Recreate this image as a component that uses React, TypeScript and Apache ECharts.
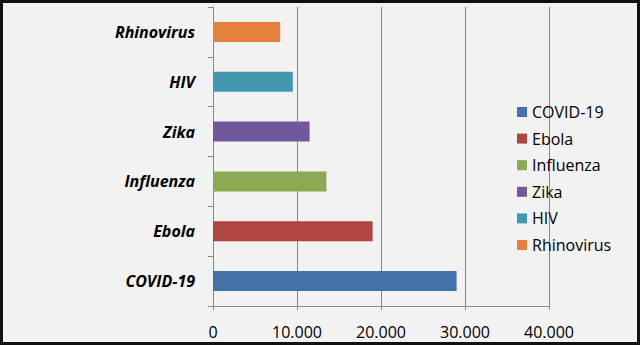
import React, { useEffect, useRef } from "react";
import * as echarts from "echarts";

const categories = ["COVID-19", "Ebola", "Influenza", "Zika", "HIV", "Rhinovirus"];
const values = [29000, 19000, 13500, 11500, 9500, 8000];
const colors = ["#4470A8", "#AE4543", "#8CAA52", "#70589A", "#4398B0", "#E2823C"];
const xTicks = [0, 10000, 20000, 30000, 40000];

function fmt(v: number): string {
  return String(v).replace(/\B(?=(\d{3})+(?!\d))/g, ".");
}

export default function App() {
  const ref = useRef<HTMLDivElement>(null);
  useEffect(() => {
    document.body.style.margin = "0";
    const chart = echarts.init(ref.current!, null, { renderer: "svg" });
    const series = categories.map((name, i) => ({
      name,
      type: "bar",
      stack: "total",
      barWidth: 20,
      itemStyle: { color: colors[i] },
      data: categories.map((_, j) => (j === i ? values[i] : "-")),
    }));
    chart.setOption({
      animation: false,
      backgroundColor: "transparent",
      grid: { left: 213, right: 91, top: 7, bottom: 39, containLabel: false },
      legend: {
        orient: "vertical",
        left: 512,
        top: 99,
        icon: "rect",
        itemWidth: 10,
        itemHeight: 10,
        itemGap: 10.6,
        textStyle: { fontFamily: "Open Sans", fontSize: 16, lineHeight: 16, color: "#000" },
        data: categories,
      },
      xAxis: {
        type: "value",
        min: xTicks[0],
        max: xTicks[xTicks.length - 1],
        interval: 10000,
        axisLine: { show: true, lineStyle: { color: "#888", width: 1 } },
        axisTick: { show: true, length: 4, lineStyle: { color: "#888" } },
        splitLine: { show: true, lineStyle: { color: "#868686", width: 1 } },
        axisLabel: {
          formatter: (v: number) => fmt(v),
          fontFamily: "Open Sans",
          fontSize: 16,
          color: "#000",
          margin: 18,
        },
      },
      yAxis: {
        type: "category",
        data: categories,
        axisLine: { show: true, lineStyle: { color: "#888", width: 1 } },
        axisTick: { show: true, length: 5, lineStyle: { color: "#888" } },
        axisLabel: {
          fontFamily: "Open Sans",
          fontSize: 16,
          fontWeight: "bold",
          fontStyle: "italic",
          color: "#000",
          margin: 18,
        },
      },
      series,
    });
    return () => chart.dispose();
  }, []);
  return (
    <div style={{ position: "relative", width: 640, height: 345, background: "#F2F2F2" }}>
      <div ref={ref} style={{ position: "absolute", left: 0, top: 0, width: 640, height: 345 }} />
      <div
        style={{
          position: "absolute",
          left: 0,
          top: 0,
          width: 640,
          height: 345,
          boxSizing: "border-box",
          border: "3px solid #111",
          pointerEvents: "none",
        }}
      />
    </div>
  );
}
